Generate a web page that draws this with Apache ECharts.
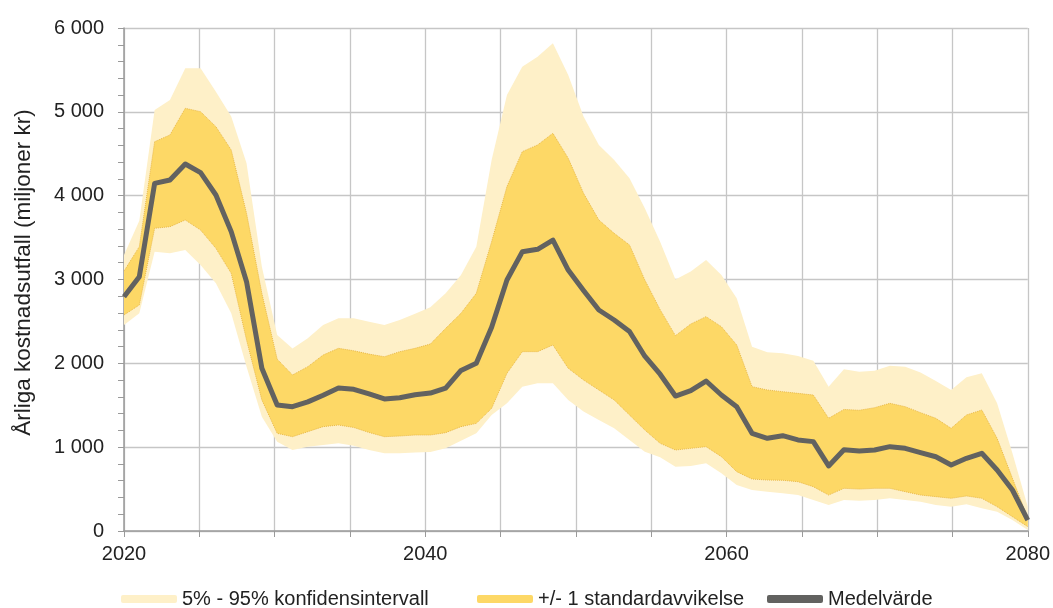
<!DOCTYPE html>
<html>
<head>
<meta charset="utf-8">
<script src="https://cdn.jsdelivr.net/npm/echarts@6/dist/echarts.min.js"></script>
<style>
  html, body { margin: 0; padding: 0; background: #fff; }
  #chart { width: 1053px; height: 608px; }
</style>
</head>
<body>
<div id="chart"></div>
<script>
// 60 points spread over the 2020-2080 axis
const years = Array.from({length: 60}, (_, i) => String(2020 + i))

const mean = [2795, 3034, 4147, 4187, 4378, 4274, 4008, 3571, 2974, 1941,
  1503, 1483, 1540, 1620, 1705, 1690, 1635, 1575, 1590, 1625,
  1645, 1705, 1915, 2000, 2430, 2994, 3330, 3360, 3471, 3113,
  2870, 2636, 2517, 2380, 2085, 1870, 1610, 1674, 1789, 1622,
  1483, 1165, 1106, 1137, 1086, 1066, 776, 970, 954, 966,
  1006, 986, 934, 886, 787, 867, 927, 728, 489, 131]

const p95 = [3292, 3700, 5022, 5141, 5519, 5519, 5241, 4943, 4386, 3153,
  2338, 2178, 2300, 2457, 2537, 2537, 2497, 2457, 2517, 2590,
  2668, 2835, 3054, 3392, 4426, 5201, 5539, 5658, 5817, 5440,
  4943, 4605, 4426, 4207, 3849, 3450, 3000, 3094, 3233, 3054,
  2775, 2199, 2131, 2119, 2088, 2032, 1722, 1930, 1900, 1913,
  1972, 1960, 1890, 1789, 1682, 1833, 1881, 1523, 927, 290]

const sdHigh = [3100, 3392, 4644, 4724, 5042, 5002, 4823, 4545, 3789, 2835,
  2050, 1861, 1960, 2099, 2179, 2150, 2110, 2079, 2139, 2179,
  2230, 2417, 2597, 2835, 3451, 4108, 4525, 4605, 4744, 4446,
  4028, 3710, 3551, 3412, 2994, 2640, 2330, 2469, 2557, 2437,
  2219, 1722, 1682, 1662, 1642, 1622, 1344, 1450, 1440, 1471,
  1523, 1483, 1412, 1344, 1225, 1384, 1443, 1105, 628, 151]

const sdLow = [2577, 2696, 3611, 3630, 3710, 3590, 3372, 3074, 2278, 1563,
  1165, 1125, 1185, 1245, 1264, 1235, 1175, 1125, 1133, 1145,
  1145, 1173, 1245, 1284, 1463, 1881, 2139, 2139, 2219, 1941,
  1801, 1682, 1563, 1384, 1205, 1046, 966, 986, 1006, 887,
  708, 620, 608, 605, 588, 529, 429, 509, 500, 509,
  509, 469, 429, 410, 390, 418, 390, 290, 171, 52]

const p5 = [2457, 2597, 3332, 3312, 3352, 3173, 2955, 2597, 1960, 1364,
  1066, 966, 1006, 1026, 1046, 1016, 966, 927, 927, 935,
  943, 986, 1078, 1165, 1384, 1523, 1722, 1761, 1761, 1563,
  1424, 1324, 1225, 1086, 946, 880, 767, 775, 807, 688,
  549, 489, 469, 449, 429, 370, 310, 370, 362, 370,
  390, 370, 350, 310, 290, 318, 270, 230, 131, 12]

const yTicks = [0, 1000, 2000, 3000, 4000, 5000, 6000]
const xLabels = [2020, 2040, 2060, 2080]

const names = ['5% - 95% konfidensintervall', '+/- 1 standardavvikelse', 'Medelvärde']
const colors = ['#fef0c8', '#fdd866', '#626260']

const font = 'Liberation Sans, Arial, sans-serif'
const ciRange = p95.map((v, i) => v - p5[i])
const sdRange = sdHigh.map((v, i) => v - sdLow[i])

function legendAt(left, idx) {
  return {
    left: left,
    top: 589,
    padding: 0,
    itemWidth: 56,
    itemHeight: 8,
    itemGap: 0,
    textStyle: {fontFamily: font, fontSize: 20, color: '#222'},
    data: [{name: names[idx], icon: 'roundRect', itemStyle: {color: colors[idx]}}]
  }
}

const chart = echarts.init(document.getElementById('chart'))

chart.setOption({
  animation: false,
  backgroundColor: '#fff',
  grid: {left: 124, right: 24, top: 28, bottom: 77},
  legend: [legendAt(121, 0), legendAt(477, 1), legendAt(767, 2)],
  xAxis: [
    {type: 'category', data: years, boundaryGap: false, show: false},
    {
      type: 'value', min: 2020, max: 2080, interval: 5, position: 'bottom',
      axisLine: {show: true, onZero: false, lineStyle: {color: '#9a9a9a', width: 1.5}},
      axisTick: {show: true, length: 6, lineStyle: {color: '#9a9a9a'}},
      splitLine: {show: true, lineStyle: {color: '#c6c6c6', width: 1.3}},
      axisLabel: {
        margin: 13, fontFamily: font, fontSize: 20, color: '#222',
        formatter: v => xLabels.includes(v) ? String(v) : ''
      }
    }
  ],
  yAxis: {
    type: 'value', min: yTicks[0], max: yTicks[yTicks.length - 1], interval: 1000,
    name: 'Årliga kostnadsutfall (miljoner kr)',
    nameLocation: 'middle', nameRotate: 90, nameGap: 89,
    nameTextStyle: {fontFamily: font, fontSize: 22.5, color: '#222', padding: [0, 0, 0, 14]},
    axisLine: {show: true, lineStyle: {color: '#9a9a9a', width: 1.5}},
    axisTick: {show: true, length: 6, lineStyle: {color: '#9a9a9a'}},
    minorTick: {show: true, splitNumber: 5, length: 6, lineStyle: {color: '#9a9a9a'}},
    splitLine: {show: true, lineStyle: {color: '#c6c6c6', width: 1.3}},
    axisLabel: {
      margin: 20, fontFamily: font, fontSize: 20, color: '#222',
      formatter: v => String(v).replace(/\B(?=(\d{3})+(?!\d))/g, ' ')
    }
  },
  series: [
    {
      name: 'p5', type: 'line', stack: 'ci', data: p5,
      showSymbol: false, lineStyle: {width: 0}, silent: true
    },
    {
      name: names[0], type: 'line', stack: 'ci', data: ciRange,
      showSymbol: false, lineStyle: {width: 0},
      itemStyle: {color: colors[0]},
      areaStyle: {color: colors[0], opacity: 1}
    },
    {
      name: 'sdLow', type: 'line', stack: 'sd', data: sdLow, z: 3,
      showSymbol: false, silent: true,
      lineStyle: {width: 1, type: 'dotted', color: '#e9b94a'}
    },
    {
      name: names[1], type: 'line', stack: 'sd', data: sdRange,
      showSymbol: false,
      lineStyle: {width: 1, type: 'dotted', color: '#e9b94a'},
      itemStyle: {color: colors[1]},
      areaStyle: {color: colors[1], opacity: 1}
    },
    {
      name: names[2], type: 'line', data: mean, z: 4,
      showSymbol: false,
      lineStyle: {width: 5, color: colors[2], join: 'round'},
      itemStyle: {color: colors[2]}
    }
  ]
})
</script>
</body>
</html>
